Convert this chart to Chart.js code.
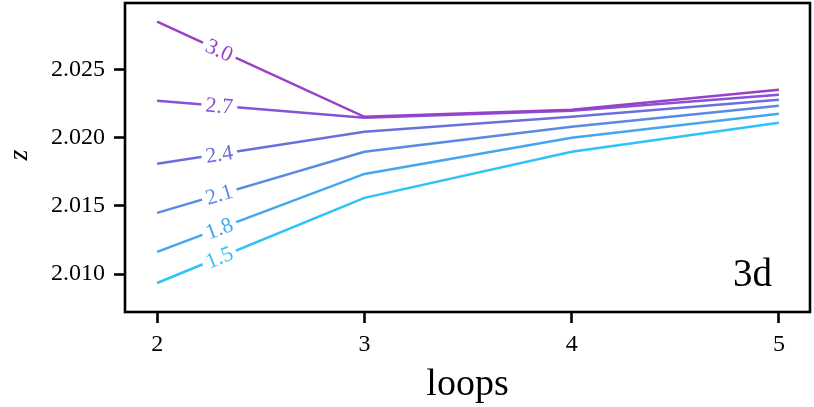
<!DOCTYPE html>
<html>
<head>
<meta charset="utf-8">
<script src="https://cdn.jsdelivr.net/npm/chart.js@4.4.1/dist/chart.umd.min.js"></script>
<style>
  html, body { margin: 0; padding: 0; background: #fff; }
  #wrap { width: 814px; height: 407px; }
</style>
</head>
<body>
<div id="wrap"><canvas id="chart"></canvas></div>
<script>
// data
const loops = [2, 3, 4, 5];
const seriesLabels = ["3.0", "2.7", "2.4", "2.1", "1.8", "1.5"];
const z30 = [2.02853, 2.02154, 2.02206, 2.02353];
const z27 = [2.02272, 2.02147, 2.02199, 2.02316];
const z24 = [2.01809, 2.02044, 2.02154, 2.02279];
const z21 = [2.01449, 2.01897, 2.02081, 2.02235];
const z18 = [2.01162, 2.01735, 2.02000, 2.02176];
const z15 = [2.00934, 2.01559, 2.01897, 2.02110];
const yTicks = [2.010, 2.015, 2.020, 2.025];
const xTicks = [2, 3, 4, 5];

const seriesValues = [z30, z27, z24, z21, z18, z15];
const colors = ["#9a3fca", "#8453d6", "#6c6fdb", "#598ae4", "#45a6ee", "#2ec2f8"];
const serif = "'Liberation Serif', 'DejaVu Serif', serif";

// inline contour-style labels, cut into the first segment of each line
const lineLabels = {
  id: "lineLabels",
  afterDatasetsDraw(chart) {
    const ctx = chart.ctx;
    const xs = chart.scales.x;
    chart.data.datasets.forEach(function (ds, i) {
      const pts = chart.getDatasetMeta(i).data;
      const p0 = pts[0], p1 = pts[1];
      const px = xs.getPixelForValue(2.3);
      const t = (px - p0.x) / (p1.x - p0.x);
      const py = p0.y + t * (p1.y - p0.y);
      const ang = Math.atan2(p1.y - p0.y, p1.x - p0.x);
      ctx.save();
      ctx.translate(px, py);
      ctx.rotate(ang);
      ctx.fillStyle = "#fff";
      ctx.fillRect(-18, -5, 36, 10);
      ctx.fillStyle = ds.borderColor;
      ctx.font = "22px " + serif;
      ctx.textAlign = "center";
      ctx.textBaseline = "middle";
      ctx.fillText(ds.label, 0, 1);
      ctx.restore();
    });
  },
};

// frame, axis titles and panel tag
const decor = {
  id: "decor",
  beforeDraw(chart) {
    const ctx = chart.ctx;
    ctx.save();
    ctx.fillStyle = "#fff";
    ctx.fillRect(0, 0, chart.width, chart.height);
    ctx.restore();
  },
  afterDraw(chart) {
    const ctx = chart.ctx;
    const a = chart.chartArea;
    ctx.save();
    ctx.strokeStyle = "#000";
    ctx.lineWidth = 2.6;
    ctx.strokeRect(a.left, a.top, a.right - a.left, a.bottom - a.top);

    ctx.fillStyle = "#000";
    ctx.font = "38px " + serif;
    ctx.textAlign = "center";
    ctx.textBaseline = "alphabetic";
    ctx.fillText("loops", (a.left + a.right) / 2, 395);

    ctx.font = "39px " + serif;
    ctx.textAlign = "right";
    ctx.fillText("3d", 772, 286);

    ctx.translate(20, 155);
    ctx.rotate(-Math.PI / 2);
    ctx.font = "italic 28px " + serif;
    ctx.textAlign = "center";
    ctx.textBaseline = "middle";
    ctx.fillText("z", 0, 0);
    ctx.restore();
  },
};

const datasets = seriesLabels.map(function (lab, i) {
  return {
    label: lab,
    data: loops.map(function (x, j) { return { x: x, y: seriesValues[i][j] }; }),
    borderColor: colors[i],
    backgroundColor: colors[i],
    borderWidth: 2.5,
    pointRadius: 0,
    tension: 0,
  };
});

new Chart(document.getElementById("chart"), {
  type: "line",
  data: { datasets: datasets },
  plugins: [decor, lineLabels],
  options: {
    responsive: true,
    maintainAspectRatio: false,
    animation: false,
    layout: { padding: { left: 0, right: 4, top: 3, bottom: 0 } },
    plugins: { legend: { display: false }, tooltip: { enabled: false } },
    scales: {
      x: {
        type: "linear",
        min: 1.845,
        max: 5.15,
        afterBuildTicks(s) { s.ticks = xTicks.map(function (v) { return { value: v }; }); },
        afterFit(s) { s.height = 95; s.paddingLeft = 0; s.paddingRight = 0; },
        grid: { display: true, drawOnChartArea: false, drawTicks: true, tickLength: 11, tickWidth: 2.6, tickColor: "#000" },
        border: { display: false },
        ticks: { color: "#000", padding: 7, font: { family: serif, size: 24 }, maxRotation: 0 },
      },
      y: {
        type: "linear",
        min: 2.00721,
        max: 2.0299,
        afterBuildTicks(s) { s.ticks = yTicks.map(function (v) { return { value: v }; }); },
        afterFit(s) { s.width = 125; s.paddingTop = 0; s.paddingBottom = 0; },
        grid: { display: true, drawOnChartArea: false, drawTicks: true, tickLength: 11, tickWidth: 2.6, tickColor: "#000" },
        border: { display: false },
        ticks: {
          color: "#000",
          padding: 9,
          font: { family: serif, size: 24 },
          callback: function (v) { return v.toFixed(3); },
        },
      },
    },
  },
});
</script>
</body>
</html>
